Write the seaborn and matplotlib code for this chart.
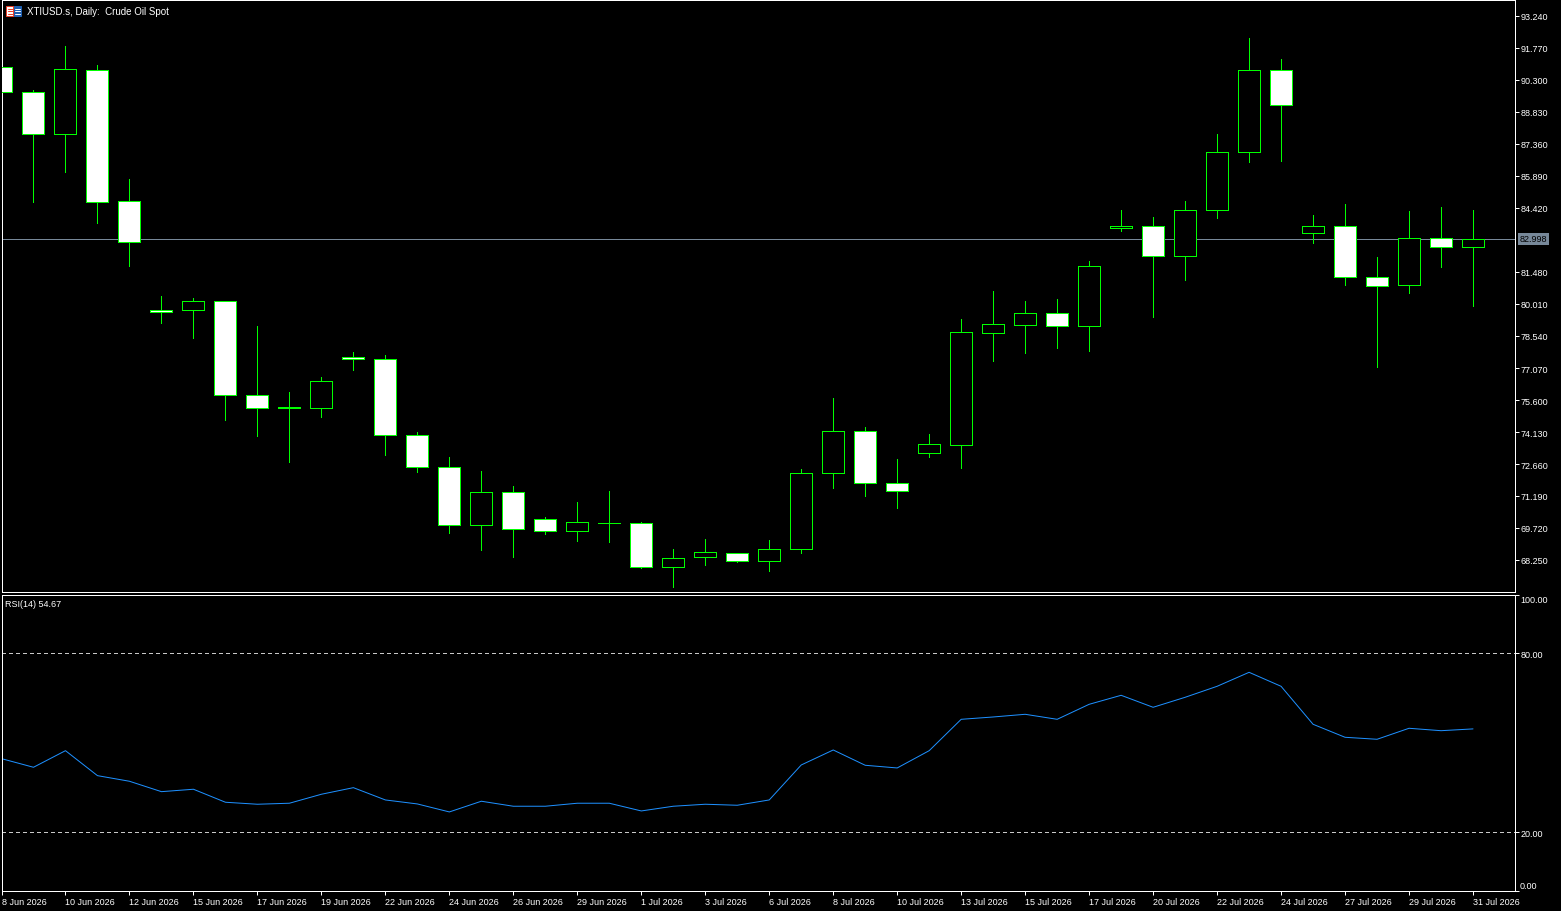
import matplotlib
matplotlib.use("Agg")
import matplotlib.pyplot as plt
import matplotlib.transforms as mtransforms
from matplotlib.patches import Rectangle
from matplotlib.lines import Line2D
import numpy as np
import pandas as pd
import seaborn as sns

# ---------------- data ----------------
dates = ["8 Jun 2026", "9 Jun 2026", "10 Jun 2026", "11 Jun 2026", "12 Jun 2026", "14 Jun 2026",
         "15 Jun 2026", "16 Jun 2026", "17 Jun 2026", "18 Jun 2026", "19 Jun 2026", "21 Jun 2026",
         "22 Jun 2026", "23 Jun 2026", "24 Jun 2026", "25 Jun 2026", "26 Jun 2026", "28 Jun 2026",
         "29 Jun 2026", "30 Jun 2026", "1 Jul 2026", "2 Jul 2026", "3 Jul 2026", "5 Jul 2026",
         "6 Jul 2026", "7 Jul 2026", "8 Jul 2026", "9 Jul 2026", "10 Jul 2026", "12 Jul 2026",
         "13 Jul 2026", "14 Jul 2026", "15 Jul 2026", "16 Jul 2026", "17 Jul 2026", "19 Jul 2026",
         "20 Jul 2026", "21 Jul 2026", "22 Jul 2026", "23 Jul 2026", "24 Jul 2026", "26 Jul 2026",
         "27 Jul 2026", "28 Jul 2026", "29 Jul 2026", "30 Jul 2026", "31 Jul 2026"]

opens = [90.88, 89.74, 87.81, 90.75, 84.73, 79.72, 79.72, 80.13, 75.82, 75.24, 75.25, 77.56,
         77.47, 73.98, 72.51, 69.84, 71.36, 70.12, 69.57, 69.95, 69.94, 67.92, 68.37, 68.56,
         68.19, 68.74, 72.23, 74.16, 71.77, 73.15, 73.55, 78.69, 79.06, 79.58, 78.99, 83.49,
         83.58, 82.20, 84.31, 86.98, 90.75, 83.26, 83.58, 81.24, 80.87, 83.03, 82.61]
highs = [90.94, 89.84, 91.86, 90.99, 85.75, 80.38, 80.29, 80.15, 79.00, 75.97, 76.66, 77.81,
         77.67, 74.13, 72.98, 72.34, 71.65, 70.23, 70.92, 71.42, 69.99, 68.76, 69.21, 68.58,
         69.17, 72.43, 75.69, 74.36, 72.89, 74.04, 79.32, 80.61, 80.15, 80.24, 81.99, 84.33,
         84.01, 84.74, 87.82, 92.23, 91.26, 84.10, 84.60, 82.17, 84.28, 84.47, 84.33]
lows = [89.70, 84.71, 86.09, 83.75, 81.77, 79.15, 78.46, 74.70, 73.96, 72.74, 74.83, 76.99,
        73.09, 72.31, 69.50, 68.72, 68.40, 69.46, 69.14, 69.09, 67.87, 67.02, 68.03, 68.17,
        67.76, 68.59, 71.57, 71.20, 70.65, 73.00, 72.49, 77.41, 77.77, 78.00, 77.87, 83.38,
        79.43, 81.13, 83.97, 86.55, 86.59, 82.83, 80.90, 77.13, 80.53, 81.72, 79.93]
closes = [89.74, 87.81, 90.79, 84.68, 82.84, 79.63, 80.13, 75.82, 75.22, 75.26, 76.46, 77.47,
          73.98, 72.51, 69.84, 71.36, 69.66, 69.57, 69.98, 69.97, 67.92, 68.33, 68.60, 68.19,
          68.74, 72.23, 74.16, 71.77, 71.41, 73.57, 78.71, 79.08, 79.58, 78.99, 81.74, 83.58,
          82.20, 84.31, 86.98, 90.75, 89.14, 83.58, 81.24, 80.82, 83.03, 82.61, 82.998]
rsi = [44.69, 41.80, 47.37, 38.99, 37.11, 33.62, 34.43, 30.07, 29.40, 29.74, 32.75, 34.96,
       30.84, 29.50, 26.82, 30.41, 28.73, 28.73, 29.74, 29.74, 27.15, 28.73, 29.40, 29.06,
       30.84, 42.57, 47.60, 42.47, 41.57, 47.37, 57.89, 58.67, 59.57, 57.89, 62.92, 65.94,
       61.92, 65.27, 68.96, 73.65, 68.96, 56.22, 51.86, 51.19, 54.88, 54.07, 54.67]

price_ticks = [93.24, 91.77, 90.30, 88.83, 87.36, 85.89, 84.42, 81.48, 80.01, 78.54,
               77.07, 75.60, 74.13, 72.66, 71.19, 69.72, 68.25]
rsi_levels = [80, 20]
title_text = "XTIUSD.s, Daily:  Crude Oil Spot"
rsi_label = "RSI(14) 54.67"
last_price = closes[-1]

df = pd.DataFrame({"date": dates, "open": opens, "high": highs, "low": lows,
                   "close": closes, "rsi": rsi})
df["idx"] = np.arange(len(df))

# ---------------- style ----------------
sns.set_theme(style="dark", rc={
    "figure.facecolor": "black", "axes.facecolor": "black", "savefig.facecolor": "black",
    "axes.edgecolor": "white", "axes.linewidth": 0.72, "axes.grid": False,
    "xtick.color": "white", "ytick.color": "white", "text.color": "white",
})
plt.rcParams["font.family"] = ["Liberation Sans", "DejaVu Sans"]

W, H = 1561, 912
fig = plt.figure(figsize=(W / 100, H / 100), dpi=100)

def fx(px):
    return px / W

def fy(py):
    return 1 - py / H

left_px, right_px = 1.5, 1514.5
ax = fig.add_axes([fx(left_px), fy(593), fx(right_px - left_px), (593 - 1) / H])
ax2 = fig.add_axes([fx(left_px), fy(892.3), fx(right_px - left_px), (892.3 - 595.5) / H])

xlim = ((left_px - 1) / 32, (right_px - 1) / 32)
GREEN = "#00ff00"
LW = 0.72
FS = 6.5

# ---------------- candles ----------------
bull = df["close"] >= df["open"]
ax.vlines(df["idx"], df["low"], df["high"], color=GREEN, linewidth=LW, zorder=2,
          antialiased=False)
body_bottom = np.minimum(df["open"], df["close"])
body_height = np.maximum(np.abs(df["close"] - df["open"]), 0.015)
fills = np.where(bull, "black", "white")
bars = ax.bar(df["idx"], body_height, bottom=body_bottom, width=0.66, color=fills,
              edgecolor=GREEN, linewidth=LW, zorder=3)
for b in bars:
    b.set_antialiased(False)

ax.axhline(last_price, color="#778899", linewidth=LW, zorder=1, antialiased=False)

ax.set_xlim(*xlim)
ax.set_ylim(66.78, 93.975)
ax.set_xticks([])
ax.yaxis.tick_right()
ax.set_yticks(price_ticks)
ax.set_yticklabels([f"{v:.3f}" for v in price_ticks])
ax.tick_params(axis="y", which="both", right=True, left=False, length=3, width=LW,
               pad=1.5, labelsize=FS, colors="white")
for s in ax.spines.values():
    s.set_color("white")
    s.set_linewidth(LW)
ax.set_xlabel("")
ax.set_ylabel("")

trans_main = mtransforms.blended_transform_factory(ax.transAxes, ax.transData)
ax.text(1.0033, last_price, f"{last_price:.3f}", transform=trans_main, ha="left", va="center",
        fontsize=FS, color="black", clip_on=False,
        bbox=dict(boxstyle="square,pad=0.2", facecolor="#778899", edgecolor="none"))

# ---------------- RSI ----------------
sns.lineplot(data=df, x="idx", y="rsi", ax=ax2, color="#1e90ff", linewidth=LW)
for lvl in rsi_levels:
    ax2.axhline(lvl, color="#c8c8c8", linewidth=LW, linestyle=(0, (3, 3)), zorder=1,
                antialiased=False)
ax2.set_xlim(*xlim)
ax2.set_ylim(0.2, 99.75)
ax2.yaxis.tick_right()
ax2.set_yticks(rsi_levels)
ax2.set_yticklabels([f"{v:.2f}" for v in rsi_levels])
ax2.set_yticks([0.2, 99.75], minor=True)
ax2.tick_params(axis="y", which="both", right=True, left=False, length=3, width=LW,
                pad=1.5, labelsize=FS, colors="white")
trans_rsi = mtransforms.blended_transform_factory(ax2.transAxes, ax2.transData)
ax2.text(1.0037, 98.0, "100.00", transform=trans_rsi, ha="left", va="center",
         fontsize=FS, color="white", clip_on=False)
ax2.text(1.0037, 2.1, "0.00", transform=trans_rsi, ha="left", va="center",
         fontsize=FS, color="white", clip_on=False)

tick_idx = df["idx"].iloc[::2].tolist()
ax2.set_xticks(tick_idx)
ax2.set_xticklabels(df["date"].iloc[::2].tolist())
ax2.tick_params(axis="x", bottom=True, length=3, width=LW, pad=0.8, labelsize=FS,
                colors="white")
for lab in ax2.get_xticklabels():
    lab.set_ha("left")
for s in ax2.spines.values():
    s.set_color("white")
    s.set_linewidth(LW)
ax2.set_xlabel("")
ax2.set_ylabel("")
ax2.text(0.002, 0.97, rsi_label, transform=ax2.transAxes, ha="left", va="center",
         fontsize=FS, color="white")

# ---------------- title + icon ----------------
fig.text(fx(27), fy(12), title_text, ha="left", va="center", fontsize=7.0, color="white")
fig.add_artist(Rectangle((fx(6.5), fy(16.5)), fx(7), 9.5 / H, transform=fig.transFigure,
                         facecolor="white", edgecolor="#e8402a", linewidth=LW))
fig.add_artist(Rectangle((fx(13.5), fy(16.5)), fx(7), 9.5 / H, transform=fig.transFigure,
                         facecolor="#1f5fb0", edgecolor="#1f5fb0", linewidth=LW))
for yy in (9.5, 12, 14.5):
    fig.add_artist(Line2D([fx(8), fx(12.5)], [fy(yy), fy(yy)], transform=fig.transFigure,
                          color="#e8402a", linewidth=LW))
    fig.add_artist(Line2D([fx(15), fx(19.5)], [fy(yy), fy(yy)], transform=fig.transFigure,
                          color="white", linewidth=LW))

fig.savefig("out.png", dpi=100, facecolor="black")
